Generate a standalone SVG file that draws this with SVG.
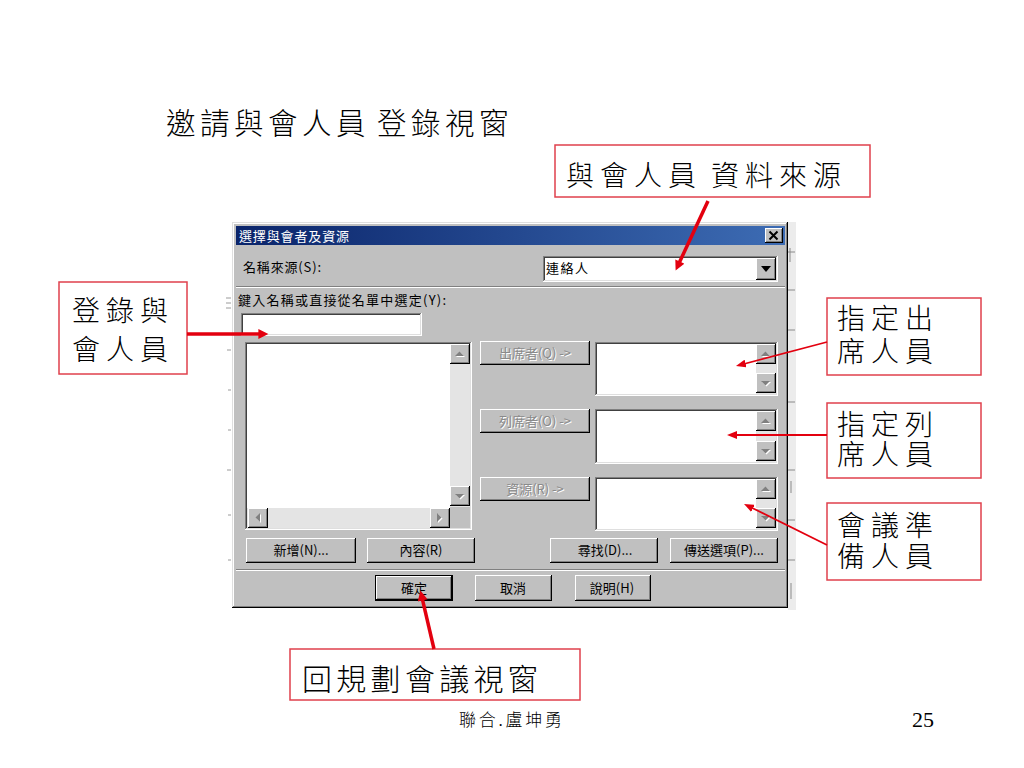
<svg xmlns="http://www.w3.org/2000/svg" xmlns:xlink="http://www.w3.org/1999/xlink" width="1024" height="768" viewBox="0 0 1024 768">
<defs>
<linearGradient id="tb" x1="0" y1="0" x2="1" y2="0">
<stop offset="0" stop-color="#0a246a"/><stop offset="1" stop-color="#3d6cb4"/>
</linearGradient>
<marker id="ahThick" viewBox="0 0 10 10" refX="2" refY="5" markerWidth="12" markerHeight="10" orient="auto" markerUnits="userSpaceOnUse"><path d="M0,0 L10,5 L0,10 z" fill="#e3000f"/></marker>
<marker id="ahThin" viewBox="0 0 10 8" refX="2" refY="4" markerWidth="10" markerHeight="8" orient="auto" markerUnits="userSpaceOnUse"><path d="M0,0 L10,4 L0,8 z" fill="#e3000f"/></marker>
<g id="sbtn"><rect class="k" x="0" y="0" width="20" height="20"/><rect class="w" x="0" y="0" width="19" height="19"/><rect class="g" x="1" y="1" width="18" height="18"/><rect class="f" x="1" y="1" width="17" height="17"/></g>
<g id="upBtn"><use xlink:href="#sbtn" href="#sbtn"/><path class="w" d="M6,13 L15,13 L10.5,8.5 z"/><path class="g" d="M5,12 L14,12 L9.5,7.5 z"/></g>
<g id="dnBtn"><use xlink:href="#sbtn" href="#sbtn"/><path class="w" d="M6,9 L15,9 L10.5,13.5 z"/><path class="g" d="M5,8 L14,8 L9.5,12.5 z"/></g>
<g id="ltBtn"><use xlink:href="#sbtn" href="#sbtn"/><path class="w" d="M13,6 L13,15 L8.5,10.5 z"/><path class="g" d="M12,5 L12,14 L7.5,9.5 z"/></g>
<g id="rtBtn"><use xlink:href="#sbtn" href="#sbtn"/><path class="w" d="M8,6 L8,15 L12.5,10.5 z"/><path class="g" d="M7,5 L7,14 L11.5,9.5 z"/></g>
</defs>
<style>
.cjk{font-family:"Liberation Serif","Noto Sans CJK TC",serif;fill:#000}
.ann{font-size:28px;letter-spacing:6px;font-weight:300}
.ui{font-family:"Noto Sans CJK TC","Liberation Sans",sans-serif;font-size:13px;fill:#000}
.mid{text-anchor:middle}
.box{fill:#fff;stroke:#e0404c;stroke-width:1.5}
.thick{stroke:#e3000f;stroke-width:3.5;fill:none;marker-end:url(#ahThick)}
.thin{stroke:#e3000f;stroke-width:1.8;fill:none;marker-end:url(#ahThin)}
.k{fill:#000}.w{fill:#fff}.g{fill:#808080}.l{fill:#dfdfdf}.f{fill:#c0c0c0}.d{fill:#404040}.tr{fill:#e4e4e4}
.dis{fill:#8a8a8a}.emb{fill:#fff}
</style>
<rect x="0" y="0" width="1024" height="768" fill="#fff"/>

<g id="title">
<text class="cjk" x="166" y="134" font-size="29.5" font-weight="300" letter-spacing="4.5">邀請與會人員</text>
<text class="cjk" x="377" y="134" font-size="29.5" font-weight="300" letter-spacing="4.5">登錄視窗</text>
</g>

<g id="dialog">
<rect x="788" y="222" width="8" height="388" fill="#ececec"/>
<path d="M788,252 h7 M788,290 h7 M788,330 h7 M788,402 h7 M788,470 h7 M788,520 h7 M788,560 h7 M790,248 v14 M791,481 v12 M791,583 v16" stroke="#8a8a8a" stroke-width="1"/>
<path d="M226,298 h5 M226,303 h5 M226,308 h5 M227,350 h4 M228,390 h3 M228,430 h3 M227,470 h4 M228,515 h3 M228,560 h3" stroke="#9a9a9a" stroke-width="1"/>
<rect class="k" x="232" y="222" width="556" height="386"/>
<rect class="l" x="232" y="222" width="555" height="385"/>
<rect class="g" x="233" y="223" width="554" height="384"/>
<rect class="w" x="233" y="223" width="553" height="383"/>
<rect class="f" x="234" y="224" width="552" height="382"/>
<rect x="236" y="226" width="549" height="19" fill="url(#tb)"/>
<text class="ui" x="239" y="241" style="fill:#fff" textLength="110">選擇與會者及資源</text>
<rect class="k" x="765" y="228" width="18" height="15"/><rect class="w" x="765" y="228" width="17" height="14"/><rect class="g" x="766" y="229" width="16" height="13"/><rect class="f" x="766" y="229" width="15" height="12"/>
<path d="M769.5,231.5 L777.5,239.5 M777.5,231.5 L769.5,239.5" stroke="#000" stroke-width="2"/>
<text class="ui" x="243" y="272" textLength="78">名稱來源(S):</text>
<rect class="w" x="543" y="256" width="235" height="26"/><rect class="g" x="543" y="256" width="234" height="25"/><rect class="l" x="544" y="257" width="233" height="24"/><rect class="d" x="544" y="257" width="232" height="23"/><rect class="w" x="545" y="258" width="231" height="22"/>
<text class="ui" x="546" y="273" textLength="42">連絡人</text>
<rect class="k" x="756" y="258" width="20" height="22"/><rect class="w" x="756" y="258" width="19" height="21"/><rect class="g" x="757" y="259" width="18" height="20"/><rect class="f" x="757" y="259" width="17" height="19"/>
<path class="k" d="M761,266 L771,266 L766,272 z"/>
<rect class="g" x="236" y="286" width="549" height="1"/><rect class="w" x="236" y="287" width="549" height="1"/>
<text class="ui" x="238" y="305" textLength="208">鍵入名稱或直接從名單中選定(Y):</text>
<rect class="w" x="241" y="313" width="181" height="23"/><rect class="g" x="241" y="313" width="180" height="22"/><rect class="l" x="242" y="314" width="179" height="21"/><rect class="d" x="242" y="314" width="178" height="20"/><rect class="w" x="243" y="315" width="177" height="19"/>
<rect class="w" x="245" y="342" width="227" height="188"/><rect class="g" x="245" y="342" width="226" height="187"/><rect class="l" x="246" y="343" width="225" height="186"/><rect class="d" x="246" y="343" width="224" height="185"/><rect class="w" x="247" y="344" width="223" height="184"/>
<rect class="tr" x="450" y="344" width="20" height="163"/>
<rect class="tr" x="247" y="508" width="203" height="20"/>
<rect class="f" x="450" y="507" width="20" height="21"/>
<use xlink:href="#upBtn" href="#upBtn" x="450" y="344"/>
<use xlink:href="#dnBtn" href="#dnBtn" x="450" y="486"/>
<use xlink:href="#ltBtn" href="#ltBtn" x="248" y="508"/>
<use xlink:href="#rtBtn" href="#rtBtn" x="430" y="508"/>
<rect class="k" x="480" y="341" width="110" height="24"/><rect class="w" x="480" y="341" width="109" height="23"/><rect class="g" x="481" y="342" width="108" height="22"/><rect class="f" x="481" y="342" width="107" height="21"/>
<text class="ui mid emb" x="536" y="359">出席者(Q) -&gt;</text><text class="ui mid dis" x="535" y="358">出席者(Q) -&gt;</text>
<rect class="k" x="480" y="409" width="110" height="24"/><rect class="w" x="480" y="409" width="109" height="23"/><rect class="g" x="481" y="410" width="108" height="22"/><rect class="f" x="481" y="410" width="107" height="21"/>
<text class="ui mid emb" x="536" y="427">列席者(O) -&gt;</text><text class="ui mid dis" x="535" y="426">列席者(O) -&gt;</text>
<rect class="k" x="480" y="477" width="110" height="24"/><rect class="w" x="480" y="477" width="109" height="23"/><rect class="g" x="481" y="478" width="108" height="22"/><rect class="f" x="481" y="478" width="107" height="21"/>
<text class="ui mid emb" x="536" y="495">資源(R) -&gt;</text><text class="ui mid dis" x="535" y="494">資源(R) -&gt;</text>
<rect class="w" x="595" y="342" width="183" height="54"/><rect class="g" x="595" y="342" width="182" height="53"/><rect class="l" x="596" y="343" width="181" height="52"/><rect class="d" x="596" y="343" width="180" height="51"/><rect class="w" x="597" y="344" width="179" height="50"/>
<rect class="tr" x="756" y="344" width="20" height="50"/>
<use xlink:href="#upBtn" href="#upBtn" x="756" y="344"/><use xlink:href="#dnBtn" href="#dnBtn" x="756" y="373"/>
<rect class="w" x="595" y="409" width="183" height="55"/><rect class="g" x="595" y="409" width="182" height="54"/><rect class="l" x="596" y="410" width="181" height="53"/><rect class="d" x="596" y="410" width="180" height="52"/><rect class="w" x="597" y="411" width="179" height="51"/>
<rect class="tr" x="756" y="411" width="20" height="51"/>
<use xlink:href="#upBtn" href="#upBtn" x="756" y="411"/><use xlink:href="#dnBtn" href="#dnBtn" x="756" y="441"/>
<rect class="w" x="595" y="477" width="183" height="54"/><rect class="g" x="595" y="477" width="182" height="53"/><rect class="l" x="596" y="478" width="181" height="52"/><rect class="d" x="596" y="478" width="180" height="51"/><rect class="w" x="597" y="479" width="179" height="50"/>
<rect class="tr" x="756" y="479" width="20" height="50"/>
<use xlink:href="#upBtn" href="#upBtn" x="756" y="479"/><use xlink:href="#dnBtn" href="#dnBtn" x="756" y="508"/>
<rect class="k" x="246" y="538" width="110" height="25"/><rect class="w" x="246" y="538" width="109" height="24"/><rect class="g" x="247" y="539" width="108" height="23"/><rect class="f" x="247" y="539" width="107" height="22"/>
<text class="ui mid" x="301" y="555">新增(N)...</text>
<rect class="k" x="367" y="538" width="108" height="25"/><rect class="w" x="367" y="538" width="107" height="24"/><rect class="g" x="368" y="539" width="106" height="23"/><rect class="f" x="368" y="539" width="105" height="22"/>
<text class="ui mid" x="421" y="555">內容(R)</text>
<rect class="k" x="550" y="538" width="108" height="25"/><rect class="w" x="550" y="538" width="107" height="24"/><rect class="g" x="551" y="539" width="106" height="23"/><rect class="f" x="551" y="539" width="105" height="22"/>
<text class="ui mid" x="605" y="555">尋找(D)...</text>
<rect class="k" x="670" y="538" width="108" height="25"/><rect class="w" x="670" y="538" width="107" height="24"/><rect class="g" x="671" y="539" width="106" height="23"/><rect class="f" x="671" y="539" width="105" height="22"/>
<text class="ui mid" x="724" y="555">傳送選項(P)...</text>
<rect class="g" x="236" y="569" width="549" height="1"/><rect class="w" x="236" y="570" width="549" height="1"/>
<rect class="k" x="375" y="575" width="78" height="26"/>
<rect class="k" x="376" y="576" width="76" height="24"/><rect class="w" x="376" y="576" width="75" height="23"/><rect class="g" x="377" y="577" width="74" height="22"/><rect class="f" x="377" y="577" width="73" height="21"/>
<text class="ui mid" x="414" y="593">確定</text>
<rect class="k" x="475" y="575" width="77" height="26"/><rect class="w" x="475" y="575" width="76" height="25"/><rect class="g" x="476" y="576" width="75" height="24"/><rect class="f" x="476" y="576" width="74" height="23"/>
<text class="ui mid" x="513" y="593">取消</text>
<rect class="k" x="575" y="575" width="76" height="26"/><rect class="w" x="575" y="575" width="75" height="25"/><rect class="g" x="576" y="576" width="74" height="24"/><rect class="f" x="576" y="576" width="73" height="23"/>
<text class="ui mid" x="612" y="593">說明(H)</text>
</g>

<g id="node-source">
<rect class="box" x="555" y="145" width="315" height="52"/>
<text class="cjk ann" x="566" y="186">與會人員</text>
<text class="cjk ann" x="711" y="186">資料來源</text>
</g>

<g id="node-login">
<rect class="box" x="59" y="282" width="128" height="92"/>
<text class="cjk ann" x="72" y="321" letter-spacing="6.5">登錄與</text>
<text class="cjk ann" x="72" y="360" letter-spacing="6.5">會人員</text>
</g>

<g id="node-required">
<rect class="box" x="827" y="298" width="154" height="77"/>
<text class="cjk ann" x="837" y="329" letter-spacing="5.5">指定出</text>
<text class="cjk ann" x="837" y="362" letter-spacing="5.5">席人員</text>
</g>

<g id="node-optional">
<rect class="box" x="827" y="403" width="154" height="75"/>
<text class="cjk ann" x="837" y="435" letter-spacing="5.5">指定列</text>
<text class="cjk ann" x="837" y="465" letter-spacing="5.5">席人員</text>
</g>

<g id="node-resource">
<rect class="box" x="827" y="503" width="154" height="77"/>
<text class="cjk ann" x="837" y="536" letter-spacing="5.5">會議準</text>
<text class="cjk ann" x="837" y="567" letter-spacing="5.5">備人員</text>
</g>

<g id="node-back">
<rect class="box" x="290" y="649" width="290" height="51"/>
<text class="cjk" x="302" y="690" font-size="30" font-weight="300" letter-spacing="4.3">回規劃會議視窗</text>
</g>

<g id="connectors">
<line class="thick" x1="708" y1="201" x2="679" y2="263.3"/>
<line class="thick" x1="187" y1="334" x2="260.4" y2="334"/>
<line class="thick" x1="434" y1="649" x2="422.2" y2="598.4"/>
<line class="thin" x1="827" y1="342" x2="743.7" y2="364"/>
<line class="thin" x1="827" y1="435" x2="735" y2="435"/>
<line class="thin" x1="827" y1="545" x2="751.2" y2="507.5"/>
</g>

<g id="footer">
<text class="cjk" x="459" y="726" font-size="17" font-weight="300" textLength="103">聯合.盧坤勇</text>
<text class="cjk" x="912" y="727" font-size="22">25</text>
</g>
</svg>
